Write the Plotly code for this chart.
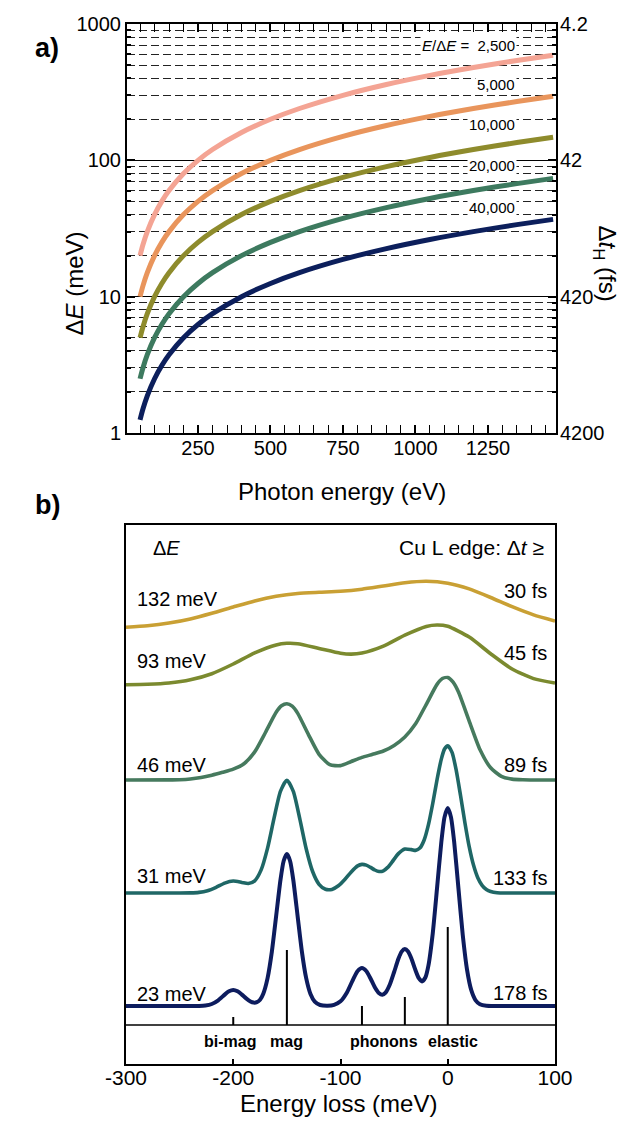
import math
import plotly.graph_objects as go

FONT = "Liberation Sans, Arial, sans-serif"
W, H = 640, 1128

# ---------------- panel a) data ----------------
photon_energy = [50, 60, 75, 100, 125, 150, 200, 250, 300, 400, 500, 600, 750, 900, 1050, 1200, 1350, 1475]
resolving_power_labels = ["2,500", "5,000", "10,000", "20,000", "40,000"]
dE_2500 = [20, 24, 30, 40, 50, 60, 80, 100, 120, 160, 200, 240, 300, 360, 420, 480, 540, 590]
dE_5000 = [10, 12, 15, 20, 25, 30, 40, 50, 60, 80, 100, 120, 150, 180, 210, 240, 270, 295]
dE_10000 = [5, 6, 7.5, 10, 12.5, 15, 20, 25, 30, 40, 50, 60, 75, 90, 105, 120, 135, 147.5]
dE_20000 = [2.5, 3, 3.75, 5, 6.25, 7.5, 10, 12.5, 15, 20, 25, 30, 37.5, 45, 52.5, 60, 67.5, 73.75]
dE_40000 = [1.25, 1.5, 1.875, 2.5, 3.125, 3.75, 5, 6.25, 7.5, 10, 12.5, 15, 18.75, 22.5, 26.25, 30, 33.75, 36.9]
label_dE = [690, 363, 182, 91, 45]           # where the E/dE labels sit (meV)
x_ticks_a = [250, 500, 750, 1000, 1250]
y_ticks_a = [1, 10, 100, 1000]
y_ticks_a2 = [4.2, 42, 420, 4200]
y_ticks_a2_text = ["4.2", "42", "420", "4200"]

# ---------------- panel b) data ----------------
x_23 = [-300,-240,-232,-226,-220,-214,-208,-204,-200,-196,-192,-188,-184,-181,-178,-175,-172,-168,-164,-160,
        -156,-153,-150,-147,-144,-140,-136,-132,-128,-124,-119,-112,-106,-100,-94,-88,-84,-80,-76,-72,
        -68,-64,-61,-58,-54,-50,-46,-43,-40,-37,-34,-30,-27,-24,-21,-18,-14,-10,-6,-3,
        0,3,6,10,14,18,22,26,30,36,45,100]
I_23 = [0,0,0.1,0.5,2.0,5.7,11.4,14.7,16,14.7,11.4,7.6,4.5,3.4,3.8,6.3,12.3,27.9,54.4,90,
        125.9,145,152,145,125.9,90,54.4,27.8,12.0,4.4,1.0,0.3,1.1,4.7,13.6,27.2,35,38,35,27.5,
        18.8,12.7,11.3,13.4,21.5,34,47.2,54.4,57,54.5,47.7,35.5,27.8,24.6,28.2,40.7,72.6,117.7,163.9,188.9,
        198,188.9,163.9,117.2,70.9,36.2,15.6,5.7,1.8,0.2,0,0]
x_31 = [-300,-250,-240,-232,-224,-216,-208,-200,-192,-186,-180,-174,-168,-162,-156,-150,-144,-138,-132,-126,
        -120,-114,-108,-102,-96,-90,-84,-80,-76,-72,-68,-64,-60,-56,-52,-46,-40,-34,-30,-26,
        -22,-18,-14,-10,-6,-3,0,4,8,12,16,20,24,28,32,36,40,46,54,100]
I_31 = [0,0,0.1,0.6,2.3,5.7,9.9,12.0,10.6,9.5,12.2,23.1,44.9,74.6,101.6,112.8,101.6,74.4,44.3,21.5,
        8.7,3.7,3.6,7.2,13.5,21.1,27.1,28.6,27.9,25.6,23.0,21.5,22.2,25.6,30.9,39.4,44.0,43.4,42.6,44.9,
        53,68.3,89.5,113.3,133.9,144,147.3,140.6,122.2,97,70.3,46.3,27.9,15.3,7.7,3.5,1.5,0.3,0,0]
x_46 = [-300,-260,-250,-240,-230,-220,-210,-200,-190,-180,-170,-160,-155,-150,-145,-140,-130,-120,-110,-100,
        -90,-80,-70,-60,-50,-40,-30,-20,-10,-5,0,5,10,20,30,40,50,60,70,80,100]
I_46 = [0,0.1,0.3,1.0,2.5,4.8,7.7,10.9,16.3,28.1,47.5,67.7,74.2,76.3,73.8,66.9,45.7,25.7,15.3,14.4,
        18.5,22.6,25.7,29,34.6,43,56.2,75.7,95.6,101.5,102.5,97.8,87.9,58.9,30.5,12.2,3.7,0.9,0.2,0,0]
x_93 = [-300,-280,-260,-240,-220,-200,-180,-160,-150,-140,-120,-100,-90,-80,-60,-40,-20,-10,0,20,40,60,80,100]
I_93 = [0.2,0.7,2.0,5.2,11.3,21.0,32.1,40.1,41.7,41.3,36.6,31.8,30.9,32.0,38.9,49.9,58.6,60.0,58.7,47.9,31.3,16.0,6.4,2.0]
x_132 = [-300,-280,-260,-240,-220,-200,-180,-160,-140,-120,-100,-80,-60,-40,-20,0,20,40,60,80,100]
I_132 = [1.3,2.8,5.5,9.6,15.2,21.5,27.6,32.2,35.0,36.2,37.2,39.3,42.5,45.7,47.2,45.3,39.6,31.0,21.8,13.6,7.5]

resolution_labels = ["132 meV", "93 meV", "46 meV", "31 meV", "23 meV"]
time_labels = ["30 fs", "45 fs", "89 fs", "133 fs", "178 fs"]
offsets = [435.5, 379, 284, 171, 58]   # vertical stacking of the spectra (arb. units)

stick_pos = [-200, -150, -80, -40, 0]
stick_height = [8, 75, 19, 28, 98]
stick_base = 39
mode_names = ["bi-mag", "mag", "phonons", "elastic"]
mode_name_x = [-203, -150, -59, 5]
x_ticks_b = [-300, -200, -100, 0, 100]

# ---------------- styles ----------------
colors_a = ["#f4a494", "#e9955c", "#8e8b2c", "#3d7a5f", "#0c1f5c"]
colors_b = ["#c9a034", "#7b8a2f", "#467a5e", "#1f6766", "#0d1c5e"]


def px_x(p):
    return p / W


def px_y(p):
    return 1 - p / H


fig = go.Figure()

series_a = [dE_2500, dE_5000, dE_10000, dE_20000, dE_40000]
for ys, c in zip(series_a, colors_a):
    fig.add_trace(go.Scatter(x=photon_energy, y=ys, mode="lines",
                             line=dict(color=c, width=5, shape="spline", smoothing=0.8),
                             xaxis="x", yaxis="y", hoverinfo="skip"))
# trace to activate the right (time) axis
fig.add_trace(go.Scatter(x=[700], y=[420], mode="markers", marker=dict(opacity=0),
                         xaxis="x", yaxis="y2", hoverinfo="skip"))

spectra = [(x_132, I_132), (x_93, I_93), (x_46, I_46), (x_31, I_31), (x_23, I_23)]
for (xs, ys), off, c in zip(spectra, offsets, colors_b):
    fig.add_trace(go.Scatter(x=xs, y=[v + off for v in ys], mode="lines",
                             line=dict(color=c, width=3.6 if c != colors_b[-1] else 4,
                                       shape="spline", smoothing=0.6),
                             xaxis="x2", yaxis="y3", hoverinfo="skip"))

# stick spectrum
sx, sy = [], []
for p, h in zip(stick_pos, stick_height):
    sx += [p, p, None]
    sy += [stick_base, stick_base + h, None]
fig.add_trace(go.Scatter(x=sx, y=sy, mode="lines", line=dict(color="black", width=2),
                         xaxis="x2", yaxis="y3", hoverinfo="skip"))
fig.add_trace(go.Scatter(x=[x_ticks_b[0], x_ticks_b[-1]], y=[stick_base, stick_base], mode="lines",
                         line=dict(color="black", width=1.6), xaxis="x2", yaxis="y3", hoverinfo="skip"))

minor_vals = [m * 10 ** k for k in range(3) for m in range(2, 10)]

fig.update_layout(
    width=W, height=H, margin=dict(l=0, r=0, t=0, b=0, pad=0, autoexpand=False),
    paper_bgcolor="white", plot_bgcolor="white", showlegend=False,
    font=dict(family=FONT, color="black", size=20),
    xaxis=dict(domain=[px_x(119), px_x(548)], range=[5, 1485], anchor="y", automargin=False,
               tickmode="array", tickvals=x_ticks_a, ticks="inside", ticklen=8, tickwidth=1.5,
               tickcolor="black", minor=dict(dtick=50, tick0=0, ticks="inside", ticklen=4,
                                             tickwidth=1.2, tickcolor="black"),
               showline=True, linewidth=2, linecolor="black", mirror="allticks",
               showgrid=False, zeroline=False, tickfont=dict(size=20), ticklabelstandoff=-4),
    yaxis=dict(domain=[px_y(425), px_y(16)], type="log", range=[0, 3], anchor="x", automargin=False,
               tickmode="array", tickvals=y_ticks_a, ticktext=[str(v) for v in y_ticks_a],
               ticks="inside", ticklen=8, tickwidth=1.5, tickcolor="black",
               showgrid=True, gridcolor="black", gridwidth=1.3,
               minor=dict(tickmode="array", tickvals=minor_vals, ticks="inside", ticklen=4,
                          tickcolor="black", showgrid=True, gridcolor="#222222",
                          griddash="8px,4px", gridwidth=1.1),
               showline=True, linewidth=2, linecolor="black", mirror="allticks",
               zeroline=False, tickfont=dict(size=20)),
    yaxis2=dict(overlaying="y", side="right", type="log", anchor="x", automargin=False,
                range=[math.log10(4200), math.log10(4.2)],
                tickmode="array", tickvals=y_ticks_a2, ticktext=y_ticks_a2_text,
                ticks="", showgrid=False, showline=False, zeroline=False,
                tickfont=dict(size=20), ticklabelstandoff=3),
    xaxis2=dict(domain=[px_x(118), px_x(547)], range=[-300, 100], anchor="y3", automargin=False,
                tickmode="array", tickvals=x_ticks_b, ticktext=[str(v) for v in x_ticks_b],
                ticks="inside", ticklen=5, tickwidth=1.5, tickcolor="black",
                showline=True, linewidth=2, linecolor="black", mirror=True,
                showgrid=False, zeroline=False, tickfont=dict(size=21), ticklabelstandoff=-6),
    yaxis3=dict(domain=[px_y(1056), px_y(517)], range=[0, 539], anchor="x2", automargin=False,
                showticklabels=False, ticks="", showline=True, linewidth=2, linecolor="black",
                mirror=True, showgrid=False, zeroline=False),
)

ann = []
# panel letters and axis titles
ann.append(dict(text="<b>a)</b>", x=px_x(25), y=px_y(23), xref="paper", yref="paper",
                showarrow=False, font=dict(size=27)))
ann.append(dict(text="<b>b)</b>", x=px_x(25), y=px_y(497), xref="paper", yref="paper",
                showarrow=False, font=dict(size=27)))
ann.append(dict(text="Photon energy (eV)", x=px_x(334), y=px_y(483), xref="paper", yref="paper",
                showarrow=False, font=dict(size=24)))
ann.append(dict(text="Energy loss (meV)", x=px_x(330), y=px_y(1111), xref="paper", yref="paper",
                showarrow=False, font=dict(size=24)))
ann.append(dict(text="Δ<i>E</i> (meV)", x=px_x(50), y=px_y(222), xref="paper", yref="paper",
                showarrow=False, textangle=-90, font=dict(size=24)))
ann.append(dict(text="Δ<i>t</i><sub>H</sub> (fs)", x=px_x(614), y=px_y(215), xref="paper", yref="paper",
                showarrow=False, textangle=90, font=dict(size=24)))

# resolving power labels (panel a)
for i, (lab, v) in enumerate(zip(resolving_power_labels, label_dE)):
    txt = ("<i>E</i>/Δ<i>E</i> =  " + lab) if i == 0 else lab
    ann.append(dict(text=txt, x=1350, y=math.log10(v), xref="x", yref="y", xanchor="right",
                    showarrow=False, bgcolor="white", borderpad=1, font=dict(size=15)))

# panel b labels
ann.append(dict(text="Δ<i>E</i>", x=-262, y=516, xref="x2", yref="y3", showarrow=False,
                font=dict(size=20)))
ann.append(dict(text="Cu L edge: Δ<i>t</i> ≥", x=92, y=516, xref="x2", yref="y3", xanchor="right",
                showarrow=False, font=dict(size=21)))
res_y = [465, 403, 299, 188, 70]
time_y = [473, 411, 299, 186, 71]
for lab, yy in zip(resolution_labels, res_y):
    ann.append(dict(text=lab, x=-292, y=yy, xref="x2", yref="y3", xanchor="left",
                    showarrow=False, font=dict(size=20)))
for lab, yy in zip(time_labels, time_y):
    ann.append(dict(text=lab, x=94, y=yy, xref="x2", yref="y3", xanchor="right",
                    showarrow=False, font=dict(size=20)))
for lab, xx in zip(mode_names, mode_name_x):
    ann.append(dict(text="<b>" + lab + "</b>", x=xx, y=23, xref="x2", yref="y3",
                    showarrow=False, font=dict(size=16)))

fig.update_layout(annotations=ann)
fig.write_html("out.html")
